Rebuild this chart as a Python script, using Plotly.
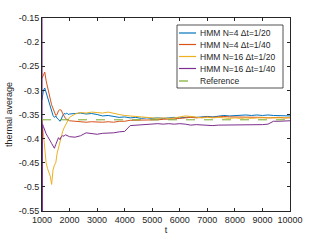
import plotly.graph_objects as go

t = [1000, 1050, 1100, 1150, 1200, 1250, 1300, 1350, 1400, 1450,
     1500, 1550, 1600, 1650, 1700, 1750, 1800, 1850, 1900, 1950,
     2000, 2200, 2400, 2600, 2800, 3000, 3200, 3400, 3600, 3800,
     4000, 4200, 4400, 4600, 4800, 5000, 5200, 5400, 5600, 5800,
     6000, 6200, 6400, 6600, 6800, 7000, 7200, 7400, 7600, 7800,
     8000, 8200, 8400, 8600, 8800, 9000, 9200, 9400, 9600, 9800, 10000]

hmm_n4_dt20 = [-0.320, -0.300, -0.295, -0.305, -0.312, -0.322, -0.335, -0.342, -0.352, -0.356,
               -0.353, -0.358, -0.360, -0.364, -0.360, -0.352, -0.348, -0.349, -0.347, -0.350,
               -0.349, -0.348, -0.347, -0.349, -0.348, -0.350, -0.353, -0.352, -0.354, -0.356,
               -0.355, -0.357, -0.356, -0.358, -0.357, -0.358, -0.357, -0.358, -0.357, -0.356,
               -0.357, -0.356, -0.355, -0.356, -0.355, -0.354, -0.355, -0.353, -0.352, -0.353,
               -0.352, -0.352, -0.351, -0.352, -0.351, -0.352, -0.351, -0.352, -0.352, -0.353, -0.353]

hmm_n4_dt40 = [-0.275, -0.270, -0.262, -0.280, -0.295, -0.310, -0.318, -0.330, -0.338, -0.348,
               -0.352, -0.350, -0.342, -0.340, -0.341, -0.348, -0.355, -0.358, -0.360, -0.362,
               -0.363, -0.364, -0.365, -0.366, -0.365, -0.366, -0.366, -0.365, -0.366, -0.364,
               -0.364, -0.362, -0.362, -0.361, -0.362, -0.361, -0.361, -0.360, -0.360, -0.359,
               -0.358, -0.357, -0.356, -0.357, -0.356, -0.355, -0.356, -0.355, -0.354, -0.355,
               -0.355, -0.356, -0.355, -0.356, -0.355, -0.356, -0.357, -0.356, -0.356, -0.357, -0.357]

hmm_n16_dt20 = [-0.360, -0.390, -0.420, -0.450, -0.462, -0.470, -0.478, -0.495, -0.465, -0.455,
                -0.450, -0.430, -0.418, -0.405, -0.392, -0.385, -0.378, -0.372, -0.366, -0.360,
                -0.356, -0.349, -0.346, -0.347, -0.345, -0.346, -0.347, -0.345, -0.348, -0.350,
                -0.352, -0.353, -0.355, -0.356, -0.357, -0.358, -0.358, -0.357, -0.358, -0.357,
                -0.355, -0.353, -0.354, -0.356, -0.357, -0.356, -0.357, -0.356, -0.357, -0.358,
                -0.357, -0.358, -0.357, -0.358, -0.357, -0.357, -0.358, -0.357, -0.357, -0.357, -0.356]

t_n16_dt40 = [1000, 1010, 1020] + t[1:]
hmm_n16_dt40 = [-0.120, -0.580, -0.370,
                -0.375, -0.385, -0.390, -0.395, -0.402, -0.405, -0.410, -0.415, -0.420,
                -0.412, -0.405, -0.398, -0.402, -0.396, -0.394, -0.395, -0.392, -0.393, -0.395,
                -0.396, -0.397, -0.394, -0.388, -0.390, -0.391, -0.389, -0.389, -0.388, -0.386,
                -0.385, -0.373, -0.372, -0.371, -0.370, -0.370, -0.369, -0.370, -0.369, -0.370,
                -0.369, -0.370, -0.372, -0.371, -0.372, -0.372, -0.373, -0.372, -0.372, -0.371,
                -0.372, -0.372, -0.371, -0.372, -0.371, -0.371, -0.370, -0.364, -0.364, -0.363, -0.363]

ref_t = [1000, 10000]
ref_val = [-0.361, -0.361]

names = ["HMM N=4 \u0394t=1/20", "HMM N=4 \u0394t=1/40",
         "HMM N=16 \u0394t=1/20", "HMM N=16 \u0394t=1/40", "Reference"]
colors = ["#0072BD", "#D95319", "#EDB120", "#7E2F8E", "#77AC30"]
dashes = ["solid", "solid", "solid", "solid", "dash"]

x_ticks = [1000, 2000, 3000, 4000, 5000, 6000, 7000, 8000, 9000, 10000]
x_ticktext = ["1000", "2000", "3000", "4000", "5000", "6000", "7000", "8000", "9000", "10000"]
y_ticks = [-0.55, -0.5, -0.45, -0.4, -0.35, -0.3, -0.25, -0.2, -0.15]
y_ticktext = ["-0.55", "-0.5", "-0.45", "-0.4", "-0.35", "-0.3", "-0.25", "-0.2", "-0.15"]

fig = go.Figure()
series = [(t, hmm_n4_dt20), (t, hmm_n4_dt40), (t, hmm_n16_dt20),
          (t_n16_dt40, hmm_n16_dt40), (ref_t, ref_val)]
for (xs, ys), nm, c, d in zip(series, names, colors, dashes):
    fig.add_trace(go.Scatter(x=xs, y=ys, mode="lines", name=nm, showlegend=False,
                             line=dict(color=c, width=1.0, dash=d)))

# custom compact legend (plot area: 42..290 px wide, 18..211 px tall)
L, R, T, B = 42.0, 290.0, 18.0, 211.0
def px(xp):
    return (xp - L) / (R - L)
def py(yp):
    return 1 - (yp - T) / (B - T)

shapes = [dict(type="rect", xref="paper", yref="paper",
               x0=px(177), x1=px(283), y0=py(88), y1=py(25),
               line=dict(color="#262626", width=0.8), fillcolor="white", layer="above")]
annotations = []
row_y = [33, 44.5, 56.5, 68.5, 81]
for yy, nm, c, d in zip(row_y, names, colors, dashes):
    shapes.append(dict(type="line", xref="paper", yref="paper",
                       x0=px(179), x1=px(196), y0=py(yy), y1=py(yy),
                       line=dict(color=c, width=1.2, dash=d), layer="above"))
    annotations.append(dict(xref="paper", yref="paper", x=px(198), y=py(yy),
                            xanchor="left", yanchor="middle", text=nm, showarrow=False,
                            font=dict(family="Liberation Sans, Arial, sans-serif",
                                      size=8.5, color="#262626")))

font = dict(family="Liberation Sans, Arial, sans-serif", size=9, color="#262626")
axcommon = dict(showgrid=False, zeroline=False, showline=True, linecolor="#262626",
                linewidth=0.8, mirror="ticks", ticks="inside", ticklen=3,
                tickcolor="#262626", tickwidth=0.8, tickfont=font, automargin=False)

fig.update_layout(
    width=321, height=241,
    margin=dict(l=42, r=31, t=18, b=30),
    paper_bgcolor="white", plot_bgcolor="white",
    font=font,
    showlegend=False,
    shapes=shapes, annotations=annotations,
    xaxis=dict(range=[1000, 10000], tickvals=x_ticks, ticktext=x_ticktext,
               title=dict(text="t", font=font, standoff=2), **axcommon),
    yaxis=dict(range=[-0.55, -0.15], tickvals=y_ticks, ticktext=y_ticktext,
               title=dict(text="thermal average", font=font, standoff=4), **axcommon),
)

fig.write_html("out.html", config={"displayModeBar": False},
               post_script="document.body.style.margin='0';")
